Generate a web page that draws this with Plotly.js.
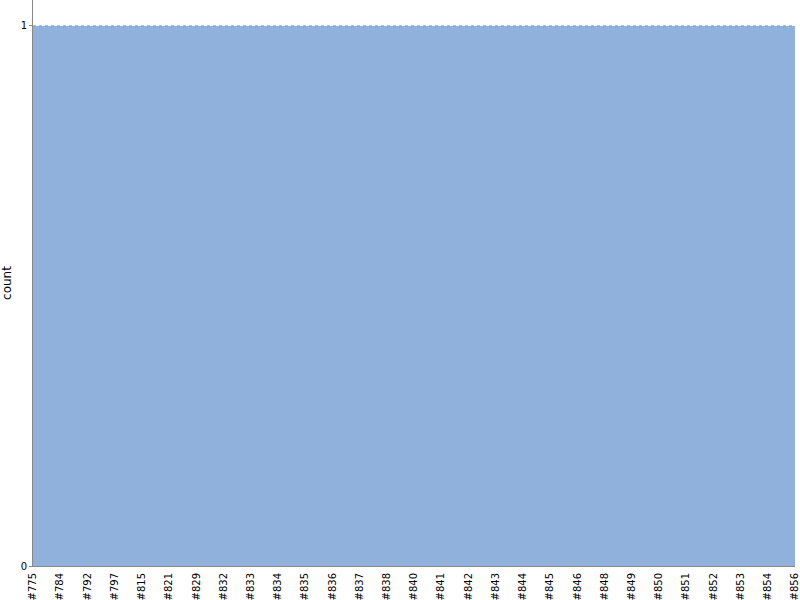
<!DOCTYPE html>
<html>
<head>
<meta charset="utf-8">
<script src="https://cdn.plot.ly/plotly-3.0.1.min.js"></script>
<style>
  html, body { margin: 0; padding: 0; background: #fff; }
  #chart { width: 800px; height: 600px; }
</style>
</head>
<body>
<div id="chart"></div>
<script>
var issues = ['#775', '#784', '#792', '#797', '#815', '#821', '#829', '#832',
    '#833', '#834', '#835', '#836', '#837', '#838', '#840', '#841', '#842',
    '#843', '#844', '#845', '#846', '#848', '#849', '#850', '#851', '#852',
    '#853', '#854', '#856'];
var counts = [1, 1, 1, 1, 1, 1, 1, 1, 1, 1, 1, 1, 1, 1, 1, 1, 1, 1, 1, 1,
    1, 1, 1, 1, 1, 1, 1, 1, 1];

var trace = {
    x: issues,
    y: counts,
    type: 'scatter',
    mode: 'lines',
    fill: 'tozeroy',
    fillcolor: 'rgb(143,177,219)',
    line: {color: 'rgb(110,152,205)', width: 1, dash: 'dot'},
    hoverinfo: 'x+y'
};

var layout = {
    width: 800,
    height: 600,
    margin: {l: 33, r: 5, t: 0, b: 34},
    showlegend: false,
    paper_bgcolor: '#fff',
    plot_bgcolor: '#fff',
    font: {family: 'DejaVu Sans, sans-serif', size: 10, color: '#000'},
    xaxis: {
        type: 'category',
        range: [0, issues.length - 1],
        tickangle: -90,
        showgrid: false,
        zeroline: false,
        showline: true,
        linecolor: '#888',
        linewidth: 1,
        ticks: '',
        ticklabelstandoff: 2,
        automargin: false,
        tickfont: {size: 10}
    },
    yaxis: {
        range: [0, 1.048],
        tickvals: [0, 1],
        ticktext: ['0', '1'],
        showgrid: false,
        zeroline: false,
        showline: true,
        linecolor: '#888',
        linewidth: 1,
        ticks: 'outside',
        ticklen: 3,
        tickcolor: '#888',
        automargin: false,
        title: {text: 'count', font: {size: 12}, standoff: 7}
    }
};

Plotly.newPlot('chart', [trace], layout, {displayModeBar: false, staticPlot: true});
</script>
</body>
</html>
